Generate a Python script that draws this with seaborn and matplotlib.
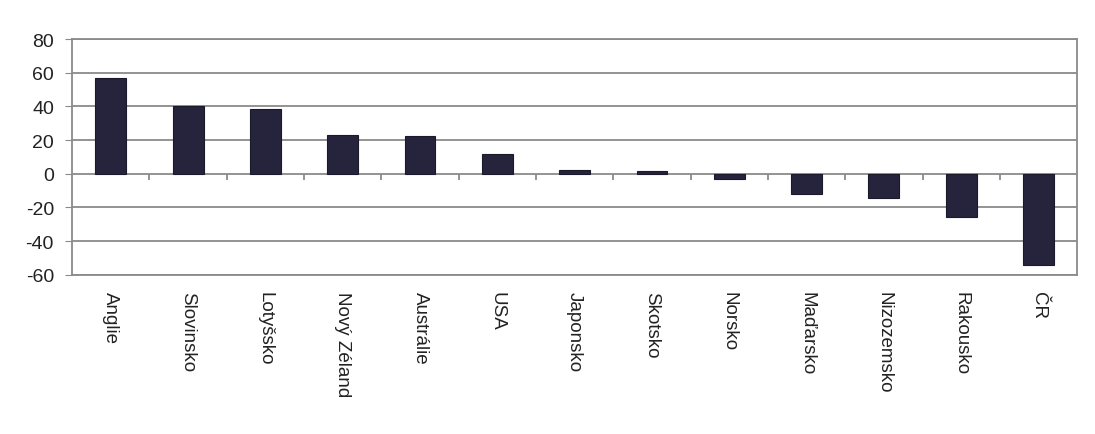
import pandas as pd
import matplotlib.pyplot as plt
import seaborn as sns

# Data
countries = ["Anglie", "Slovinsko", "Lotyšsko", "Nový Zéland", "Austrálie", "USA",
             "Japonsko", "Skotsko", "Norsko", "Maďarsko", "Nizozemsko", "Rakousko", "ČR"]
values = [57, 40, 38.5, 23, 22.5, 12, 2, 1.5, -3, -12, -14.5, -25.5, -54]
yticks = [-60, -40, -20, 0, 20, 40, 60, 80]

df = pd.DataFrame({"country": countries, "value": values})

sns.set_style("white")
plt.rcParams['font.family'] = ['Liberation Sans', 'DejaVu Sans']
plt.rcParams['axes.unicode_minus'] = False

fig = plt.figure(figsize=(10.95, 4.35), dpi=100)
ax = fig.add_axes([0.0658, 0.366, 0.918, 0.542])

sns.barplot(data=df, x="country", y="value", color="#26243d", saturation=1,
            width=0.4, edgecolor="#1a1a2a", linewidth=0.8, ax=ax, zorder=3)

ax.set_ylim(-60, 80)
ax.set_xlim(-0.5, len(countries) - 0.5)
ax.set_yticks(yticks)
ax.grid(axis="y", color="#8a8a8a", linewidth=1.3, zorder=0)
ax.set_axisbelow(True)
for s in ax.spines.values():
    s.set_color("#8a8a8a")
    s.set_linewidth(1.3)

ax.tick_params(axis="y", labelsize=14, labelcolor="#222222", length=5,
               color="#8a8a8a", direction="out", left=True, pad=8)
ax.set_xticks(range(len(countries)))
ax.set_xticklabels(countries, rotation=-90, fontsize=13.5, color="#222222",
                   va="top", ha="center")
ax.tick_params(axis="x", length=0, pad=12)
ax.set_xlabel("")
ax.set_ylabel("")

# small category separators on the zero line
sec = ax.secondary_xaxis(60 / 140)
sec.set_xticks([i + 0.5 for i in range(len(countries) - 1)])
sec.set_xticklabels([])
sec.tick_params(axis="x", direction="out", length=4, color="#8a8a8a", width=1.3)
sec.spines["bottom"].set_visible(False)

plt.savefig("out.png", dpi=100)
